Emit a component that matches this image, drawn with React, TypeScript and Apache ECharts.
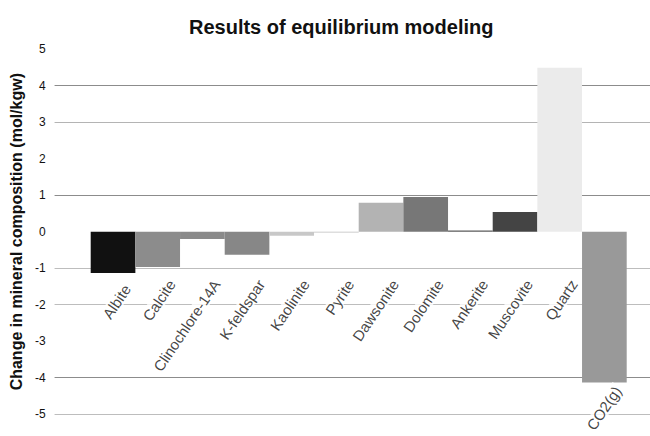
import React, { useEffect, useRef } from "react";
import * as echarts from "echarts";

const categories = [
  "Albite",
  "Calcite",
  "Clinochlore-14A",
  "K-feldspar",
  "Kaolinite",
  "Pyrite",
  "Dawsonite",
  "Dolomite",
  "Ankerite",
  "Muscovite",
  "Quartz",
  "CO2(g)",
];
const values = [-1.13, -0.97, -0.2, -0.63, -0.11, -0.02, 0.79, 0.95, 0.03, 0.54, 4.49, -4.13];
const barColors = [
  "#111111",
  "#8c8c8c",
  "#8a8a8a",
  "#878787",
  "#c8c8c8",
  "#bdbdbd",
  "#b3b3b3",
  "#777777",
  "#5a5a5a",
  "#444444",
  "#ebebeb",
  "#999999",
];
const yMin = -5;
const yMax = 5;
const yInterval = 1;
// gridline colours from -5 up to 5
const gridColors = [
  "#bdbdbd",
  "#8c8c8c",
  "rgba(0,0,0,0)",
  "#bdbdbd",
  "#bdbdbd",
  "rgba(0,0,0,0)",
  "#8c8c8c",
  "rgba(0,0,0,0)",
  "#b4b4b4",
  "#8c8c8c",
  "rgba(0,0,0,0)",
];

const FONT = "'Liberation Sans', Arial, sans-serif";

export default function App() {
  const ref = useRef<HTMLDivElement>(null);
  useEffect(() => {
    if (!ref.current) return;
    const chart = echarts.init(ref.current, undefined, { renderer: "svg" });
    const labelAnchors = values.map((v, i) => {
      const y = Math.min(v, -1);
      // labels near the bottom edge are nudged up so they stay on the page
      return y < -4
        ? { value: [i, y], label: { offset: [5, 14] } }
        : { value: [i, y] };
    });
    chart.setOption({
      animation: false,
      backgroundColor: "#ffffff",
      title: {
        text: "Results of equilibrium modeling",
        left: 184,
        top: 12,
        textStyle: { fontFamily: FONT, fontSize: 20, fontWeight: "bold", color: "#111" },
      },
      grid: [
        { left: 53, right: 0, top: 49.2, bottom: 21.8 },
        { left: 90.7, right: 23.3, top: 49.2, bottom: 21.8 },
      ],
      xAxis: [
        { type: "value", gridIndex: 0, min: 0, max: 1, show: false },
        {
          type: "category",
          gridIndex: 1,
          data: categories,
          show: false,
        },
      ],
      yAxis: [
        {
          type: "value",
          gridIndex: 0,
          min: yMin,
          max: yMax,
          interval: yInterval,
          axisLine: { show: false },
          axisTick: { show: false },
          axisLabel: { fontFamily: FONT, fontSize: 12, color: "#111", margin: 9 },
          splitLine: { show: true, lineStyle: { color: gridColors, width: 1.2 } },
          name: "Change in mineral composition (mol/kgw)",
          nameLocation: "middle",
          nameGap: 21,
          nameTextStyle: { fontFamily: FONT, fontSize: 16, fontWeight: "bold", color: "#111" },
        },
        {
          type: "value",
          gridIndex: 1,
          min: yMin,
          max: yMax,
          interval: yInterval,
          show: false,
          splitLine: { show: false },
        },
      ],
      series: [
        {
          type: "bar",
          xAxisIndex: 1,
          yAxisIndex: 1,
          barCategoryGap: "0%",
          barWidth: "100%",
          data: values.map((v, i) => ({ value: v, itemStyle: { color: barColors[i] } })),
          z: 3,
        },
        {
          type: "scatter",
          xAxisIndex: 1,
          yAxisIndex: 1,
          symbolSize: 0,
          silent: true,
          z: 4,
          data: labelAnchors,
          label: {
            show: true,
            position: [0, 0],
            formatter: (p: any) => categories[p.dataIndex],
            rotate: 56,
            align: "right",
            verticalAlign: "middle",
            offset: [-1, 19],
            fontFamily: FONT,
            fontSize: 15,
            color: "#111",
            backgroundColor: "#ffffff",
            padding: [0, 2],
          },
        },
      ],
    });
    return () => chart.dispose();
  }, []);
  return (
    <div
      ref={ref}
      style={{ position: "fixed", left: 0, top: 0, width: 650, height: 436 }}
    />
  );
}
